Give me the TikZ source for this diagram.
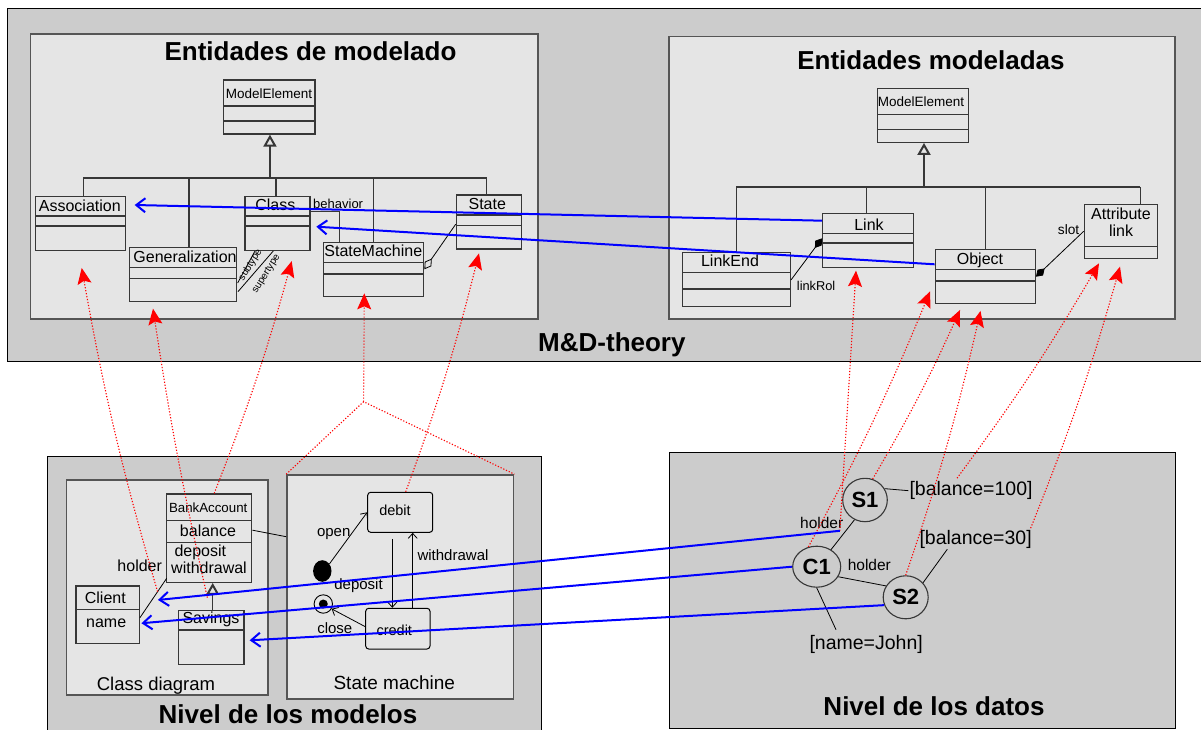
\documentclass[tikz,border=0pt]{standalone}
\usepackage{fontspec}
\setmainfont{Liberation Sans}
\usetikzlibrary{arrows.meta,calc,fit,shapes.geometric}
\newcommand\fsz[1]{\fontsize{#1}{#1}\selectfont}
\definecolor{outerfill}{RGB}{204,204,204}
\definecolor{panelfill}{RGB}{229,229,229}
\definecolor{umlgray}{RGB}{55,55,55}
\definecolor{panelline}{RGB}{85,85,85}
\tikzset{
  outerbox/.style={draw=black, line width=1pt, fill=outerfill, inner sep=0pt},
  panel/.style={draw=panelline, line width=1.6pt, fill=panelfill, inner sep=0pt},
  umlbox/.style={draw=umlgray, line width=1.3pt, inner sep=0pt},
  umlline/.style={draw=umlgray, line width=1.2pt},
  thinline/.style={draw=black, line width=0.8pt},
  gentri/.style={-{Triangle[open,length=12pt,width=13pt,line width=2pt]}},
  txt/.style={inner sep=0pt, anchor=base},
  title/.style={txt, font=\fsz{26}\bfseries},
  statebox/.style={draw=black, line width=1pt, rounded corners=3pt, inner sep=0pt},
  instance/.style={ellipse, draw=umlgray, line width=1.1pt, inner sep=0pt, font=\fsz{22}\bfseries},
  trans/.style={draw=black, line width=0.8pt, -{Straight Barb[length=5pt,width=9pt]}},
  reddot/.style={draw=red, line width=1.1pt, dash pattern=on 1.2pt off 1.8pt},
  redarr/.style={reddot, -{Stealth[length=16pt,width=14pt,inset=3pt,fill=red]}},
  blueln/.style={draw=blue, line width=2pt, -{Straight Barb[length=9pt,width=14pt]}},
}
% class box with name compartment and two (or one) separators
\newcommand\umlclass[7]{%
  \node[umlbox, fit={(#2,#3) (#4,#5)}] (#1) {};
  \draw[umlline] (#2,#6) -- (#4,#6);
  \if\relax\detokenize{#7}\relax\else\draw[umlline] (#2,#7) -- (#4,#7);\fi
}
\begin{document}
\begin{tikzpicture}[x=1pt,y=-1pt]
\useasboundingbox (0,0) rectangle (1201,730);
\clip (0,0) rectangle (1201,730);

% ---------- containers ----------
\node[outerbox, fit={(7,9) (1215,361)}] (mdt) {};
\node[panel, fit={(30.6,34.3) (537.7,319)}] (modelado) {};
\node[panel, fit={(669,36.7) (1175,319)}] (modeladas) {};
\node[outerbox, fit={(47.7,456) (541.5,745)}] (modelos) {};
\node[panel, fit={(66.6,479.7) (268,695)}] (classdiag) {};
\node[panel, fit={(287,475) (513.6,699)}] (smbox) {};
\node[outerbox, fit={(669,452.7) (1175,728)}] (datos) {};

\node[title] at (310.5,60.5) {Entidades de modelado};
\node[title] at (931,69.5) {Entidades modeladas};
\node[title] at (611.9,351.7) {M\&D-theory};
\node[title] at (288,723.3) {Nivel de los modelos};
\node[title] at (934,715) {Nivel de los datos};
\node[txt, font=\fsz{18.5}] at (156,690) {Class diagram};
\node[txt, font=\fsz{19}] at (394.3,689) {State machine};

% ---------- modelling entities ----------
\umlclass{meL}{223.3}{80}{315}{134}{106}{121}
\node[txt, font=\fsz{13.5}] at (269,99) {ModelElement};
\umlclass{assoc}{35.3}{196.7}{125.3}{250.7}{216}{226}
\node[txt, font=\fsz{16}] at (79.8,211.7) {Association};
\umlclass{gen}{129.3}{247.3}{236.7}{301.3}{267.3}{278.3}
\node[txt, font=\fsz{16}] at (185,262.3) {Generalization};
\umlclass{class}{245}{196.7}{310}{250.3}{216}{226}
\node[txt, font=\fsz{16}] at (275.3,210) {Class};
\umlclass{sm}{323.7}{242.3}{423.7}{296.3}{262.3}{274}
\node[txt, font=\fsz{16}] at (373.3,256.7) {StateMachine};
\umlclass{state}{456.3}{195}{521.7}{249}{215}{225.3}
\node[txt, font=\fsz{16}] at (487.3,209.3) {State};

\coordinate (bl1) at (83.3,178);
\coordinate (bl2) at (486.7,178);
\draw[umlline] (bl1) -- (bl2);
\coordinate (mlb) at ($(meL.south)+(0.8,0)$);
\draw[umlline, gentri] (mlb |- bl1) -- (mlb);
\draw[umlline] (bl1) -- (bl1 |- assoc.north);
\coordinate (gtop) at ($(gen.north)+(6,0)$);
\draw[umlline] (gtop |- bl1) -- (gtop);
\coordinate (ctop) at ($(class.north)+(-1.5,0)$);
\draw[umlline] (ctop |- bl1) -- (ctop);
\draw[umlline] (sm.north |- bl1) -- (sm.north);
\draw[umlline] (bl2) -- (bl2 |- state.north);

\draw[umlline] ($(class.east)+(0,-11.8)$) -| ($(sm.north)+(-34.4,0)$);
\node[txt, anchor=base west, font=\fsz{13}] at (313,208.3) {behavior};
\draw[thinline, {Diamond[open,length=13pt,width=8pt]}-] (sm.east) -- ($(state.west)+(0,2.3)$);
\draw[thinline] ($(gen.east)+(0.3,8.7)$) -- ($(class.south)+(-22.5,0)$);
\draw[thinline] ($(gen.east)+(0.6,17.4)$) -- ($(class.south)+(-4.2,0)$);
\node[inner sep=0pt, font=\fsz{10}, rotate=58] at (250.5,265) {subtype};
\node[inner sep=0pt, font=\fsz{10}, rotate=58] at (266.5,274) {supertype};

% ---------- modelled entities ----------
\umlclass{meR}{877.3}{88.3}{968.3}{142.3}{114.7}{129.3}
\node[txt, font=\fsz{13.5}] at (921,106.7) {ModelElement};
\umlclass{linkend}{682.7}{252.3}{790.3}{306.3}{272.3}{289}
\node[txt, font=\fsz{16}] at (730,266.7) {LinkEnd};
\umlclass{link}{822.7}{213.3}{913.3}{267.3}{233.3}{243}
\node[txt, font=\fsz{16}] at (869,230) {Link};
\umlclass{object}{935.3}{249.3}{1035.3}{303.3}{269.3}{281}
\node[txt, font=\fsz{16}] at (980,264.3) {Object};
\umlclass{attr}{1084.3}{204.3}{1157.3}{258.3}{246.7}{}
\node[txt, font=\fsz{16}] at (1121,219.3) {Attribute};
\node[txt, font=\fsz{16}] at (1121,236.7) {link};

\coordinate (br1) at (736.3,187);
\coordinate (br2) at (1140.3,187);
\draw[umlline] (br1) -- (br2);
\coordinate (mrb) at ($(meR.south)+(1.2,0)$);
\draw[umlline, gentri] (mrb |- br1) -- (mrb);
\draw[umlline] (br1) -- (br1 |- linkend.north);
\coordinate (ltop) at ($(link.north)+(-1.7,0)$);
\draw[umlline] (ltop |- br1) -- (ltop);
\draw[umlline] (object.north |- br1) -- (object.north);
\draw[umlline] (br2) -- (br2 |- attr.north);

\draw[thinline, {Diamond[length=12pt,width=8pt]}-] ($(link.west)+(0,-2)$) -- ($(linkend.east)+(0,0.7)$);
\node[txt, anchor=base west, font=\fsz{12.8}] at (796.7,290) {linkRol};
\draw[thinline, {Diamond[length=12pt,width=8pt]}-] ($(object.east)+(0,0.4)$) -- (attr.west);
\node[txt, anchor=base west, font=\fsz{13.7}] at (1057.7,234) {slot};

% ---------- class diagram ----------
\umlclass{bank}{166.7}{494}{251.7}{582.3}{520.7}{542.3}
\node[txt, font=\fsz{13.3}] at (208.2,512.3) {BankAccount};
\node[txt, font=\fsz{16}] at (208,536.7) {balance};
\node[txt, anchor=base west, font=\fsz{16}] at (174.3,556) {deposit};
\node[txt, anchor=base west, font=\fsz{16}] at (171,573.3) {withdrawal};
\umlclass{client}{76}{586}{139.3}{643.3}{609.3}{}
\node[txt, font=\fsz{16}] at (105.3,603.3) {Client};
\node[txt, anchor=base west, font=\fsz{16}] at (86,627.7) {name};
\umlclass{savings}{178.7}{610.3}{244}{664.3}{630}{}
\node[txt, font=\fsz{16}] at (211,623.3) {Savings};

\draw[thinline] ($(client.east)+(0,3)$) coordinate (hA) -- ($(bank.south west)+(0.6,-4.6)$) coordinate (hB);
\node[txt, font=\fsz{16}] at (139.7,571.7) {holder};
\coordinate (gS) at ($(savings.north)+(1.35,0)$);
\draw[umlline, gentri] (gS) -- (gS |- bank.south);
\draw[thinline] ($(bank.east)+(0,-8)$) -- ($(smbox.west)+(0,-50.3)$);

% ---------- state machine ----------
\node[statebox, fit={(367.7,492.3) (432.7,532.3)}] (debit) {};
\node[txt, font=\fsz{14.5}] at (395,515.7) {debit};
\node[statebox, fit={(365.7,608.3) (430,649)}] (credit) {};
\node[txt, font=\fsz{14.5}] at (394.3,635) {credit};
\node[ellipse, fill=black, minimum width=18.4pt, minimum height=21.6pt, inner sep=0pt] (init) at (322.3,571) {};
\node[circle, draw=black, line width=0.9pt, minimum size=18.4pt, inner sep=0pt] (final) at (323.3,604) {};
\node[circle, fill=black, minimum size=9pt, inner sep=0pt] at (final.center) {};

\draw[trans] (init.45) -- (debit.west);
\node[txt, font=\fsz{15}] at (333.7,536) {open};
\coordinate (dp) at ($(debit.south)+(-7.9,6)$);
\draw[trans] (dp) -- (dp |- credit.north);
\node[txt, font=\fsz{15}] at (358.5,589.3) {deposit};
\coordinate (wd) at ($(credit.north)+(14.85,0)$);
\draw[trans] (wd) -- (wd |- debit.south);
\node[txt, font=\fsz{15}] at (453,560) {withdrawal};
\draw[trans] ($(credit.west)+(0,-2)$) -- (final.-30);
\node[txt, font=\fsz{15}] at (334.8,633.3) {close};

% ---------- data level ----------
\node[instance, minimum width=44.6pt, minimum height=43.4pt] (s1) at (865,500) {S1};
\node[instance, minimum width=48pt, minimum height=41pt] (c1) at (816.7,566.7) {C1};
\node[instance, minimum width=45pt, minimum height=43pt] (s2) at (905.7,597.3) {S2};
\node[txt, anchor=base west, font=\fsz{19.5}] (bal100) at (909.3,495.7) {[balance=100]};
\node[txt, anchor=base west, font=\fsz{19.5}] (bal30) at (919.3,544) {[balance=30]};
\node[txt, anchor=base west, font=\fsz{19.5}] (john) at (809.3,649) {[name=John]};

\draw[thinline] (s1.30) -- ($(bal100.west)+(-1,0)$);
\draw[thinline] (s2.40) -- ($(bal30.south west)+(28,1)$);
\draw[thinline] (c1.south) -- ($(john.north west)+(26.7,-5)$);
\draw[thinline] (s1.242) -- coordinate[pos=0.37] (hl) (c1.50);
\draw[thinline] (c1.-25) -- (s2.150);
\node[txt, font=\fsz{15.5}] at (821.7,528.3) {holder};
\node[txt, font=\fsz{15.5}] at (869.3,570) {holder};
\coordinate (hl2) at ($(hl)+(-6,0)$);

% ---------- instance-of relations ----------
\coordinate (jn) at (363.6,401.7);
\draw[reddot] (smbox.north west) -- (jn) -- (smbox.north east);
\draw[redarr] (jn) -- ($(sm.south)+(-9.4,-3.6)$);
\draw[redarr] ($(hA)!0.66!(hB)$) to[bend left=3] ($(assoc.south)+(1.4,16.6)$);
\draw[redarr] ($(savings.north)+(-4,-12)$) to[bend left=2] ($(gen.south)+(-30,6.7)$);
\draw[redarr] ($(bank.north)+(5,0)$) to[bend right=3] ($(class.south)+(14.2,10.2)$);
\draw[redarr] ($(debit.north)+(5.5,0)$) to[bend right=3] ($(state.south)+(-10,3.7)$);
\draw[redarr] (hl2) -- ($(link.south)+(-12,2.7)$);
\draw[redarr] (c1.113) to[bend right=3] ($(object.south west)+(-4.6,-12.6)$);
\draw[redarr] (s1.70) to[bend right=3] ($(object.south)+(-25.3,6)$);
\draw[redarr] (s2.north) to[bend right=3] ($(object.south)+(-4.8,7)$);
\draw[redarr] ($(bal100.north)+(-14,-3.2)$) to[bend right=3] ($(attr.south)+(-21.8,4.4)$);
\draw[redarr] ($(bal30.north east)+(-1.3,-1.5)$) to[bend right=3] ($(attr.south)+(-0.8,7.7)$);

% ---------- correspondences ----------
\draw[blueln] ($(link.west)+(0,-19.6)$) -- ($(assoc.east)+(8.7,-18.7)$);
\draw[blueln] ($(object.west)+(0,-12)$) -- ($(class.east)+(5.7,3.2)$);
\draw[blueln] (hl2) -- ($(hA)!0.45!(hB)+(6,0)$);
\draw[blueln] (c1.west) -- ($(client.east)+(1.5,8.6)$);
\draw[blueln] (s2.200) -- ($(savings.east)+(5,3)$);
\end{tikzpicture}
\end{document}
